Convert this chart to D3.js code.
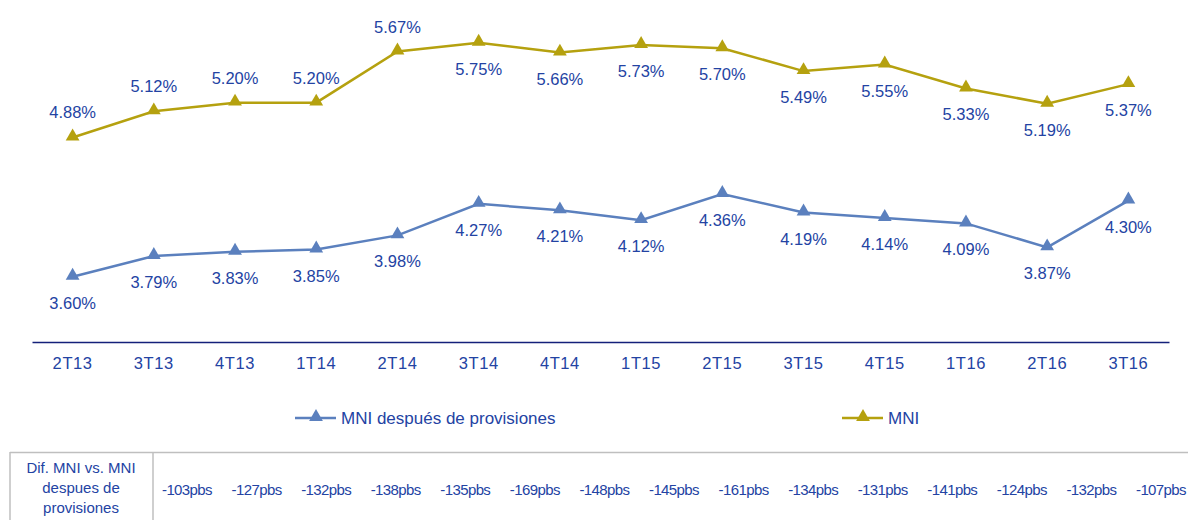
<!DOCTYPE html>
<html><head><meta charset="utf-8">
<script src="https://cdn.jsdelivr.net/npm/d3@7"></script>
<style>body{margin:0;background:#fff}svg{display:block;font-family:"Liberation Sans",Arial,sans-serif}</style>
</head><body><svg id="c" width="1188" height="520"></svg>
<script>
const categories = ["2T13","3T13","4T13","1T14","2T14","3T14","4T14","1T15","2T15","3T15","4T15","1T16","2T16","3T16"];
const mniValues = [4.88,5.12,5.20,5.20,5.67,5.75,5.66,5.73,5.70,5.49,5.55,5.33,5.19,5.37];
const mnpValues = [3.60,3.79,3.83,3.85,3.98,4.27,4.21,4.12,4.36,4.19,4.14,4.09,3.87,4.30];
const mniLabelPos = ["above","above","above","above","above","below","below","below","below","below","below","below","below","below"];
const diffLabels = ["-103pbs","-127pbs","-132pbs","-138pbs","-135pbs","-169pbs","-148pbs","-145pbs","-161pbs","-134pbs","-131pbs","-141pbs","-124pbs","-132pbs","-107pbs"];
const tableHeader = ["Dif. MNI vs. MNI","despues de","provisiones"];
const seriesNames = ["MNI después de provisiones","MNI"];

const textColor = "#2343A3", goldColor = "#B5A10F", blueColor = "#5B80BE", axisColor = "#14207A";
const svg = d3.select("#c");
const x = d3.scaleBand().domain(categories).range([32,1169]);
const y = d3.scaleLinear().domain([3,6]).range([342,15.6]);
const cx = d => x(d) + x.bandwidth()/2;
const tri = d3.symbol().type(d3.symbolTriangle).size(82);

// axis
const ax = svg.append("g").attr("transform","translate(0,342)").call(d3.axisBottom(x).tickSize(0).tickPadding(15));
ax.select(".domain").attr("stroke",axisColor).attr("stroke-width",1.5);
ax.selectAll("text").attr("fill",textColor).attr("font-size",16.5).attr("letter-spacing",0.6).attr("font-family","Liberation Sans, Arial, sans-serif");

function drawSeries(vals,color,posArr){
  const line = d3.line().x((d,i)=>cx(categories[i])).y(d=>y(d));
  svg.append("path").datum(vals).attr("d",line).attr("fill","none").attr("stroke",color).attr("stroke-width",2.5);
  svg.selectAll(null).data(vals).enter().append("path").attr("d",tri).attr("fill",color)
    .attr("transform",(d,i)=>`translate(${cx(categories[i])},${y(d)-1})`);
  svg.selectAll(null).data(vals).enter().append("text")
    .attr("x",(d,i)=>cx(categories[i])).attr("y",(d,i)=>posArr[i]==="above"?y(d)-19:y(d)+32)
    .attr("text-anchor","middle").attr("font-size",16.5).attr("fill",textColor)
    .text(d=>d.toFixed(2)+"%");
}
drawSeries(mniValues,goldColor,mniLabelPos);
drawSeries(mnpValues,blueColor,mnpValues.map(()=>"below"));

// legend
const legend = [{name:seriesNames[0],color:blueColor,x0:295},{name:seriesNames[1],color:goldColor,x0:842}];
legend.forEach(l=>{
  const g = svg.append("g").attr("transform",`translate(${l.x0},418)`);
  g.append("line").attr("x1",0).attr("x2",41).attr("stroke",l.color).attr("stroke-width",2.5);
  g.append("path").attr("d",tri).attr("fill",l.color).attr("transform","translate(21,-1)");
  g.append("text").attr("x",46).attr("y",6).attr("font-size",17).attr("fill",textColor).text(l.name);
});

// table
const t = svg.append("g");
t.append("line").attr("x1",10).attr("x2",1188).attr("y1",452.5).attr("y2",452.5).attr("stroke","#BFBFBF").attr("stroke-width",1.5);
t.append("line").attr("x1",10).attr("x2",10).attr("y1",452).attr("y2",520).attr("stroke","#BFBFBF").attr("stroke-width",1.5);
t.append("line").attr("x1",153).attr("x2",153).attr("y1",452).attr("y2",520).attr("stroke","#BFBFBF").attr("stroke-width",1.5);
t.selectAll(null).data(tableHeader).enter().append("text")
  .attr("x",81).attr("y",(d,i)=>473+i*20).attr("text-anchor","middle").attr("font-size",15).attr("fill",textColor).text(d=>d);
const tx = d3.scalePoint().domain(d3.range(diffLabels.length)).range([187,1161]);
t.selectAll(null).data(diffLabels).enter().append("text")
  .attr("x",(d,i)=>tx(i)).attr("y",495).attr("text-anchor","middle").attr("font-size",15).attr("letter-spacing",-0.6).attr("fill",textColor).text(d=>d);
</script></body></html>
